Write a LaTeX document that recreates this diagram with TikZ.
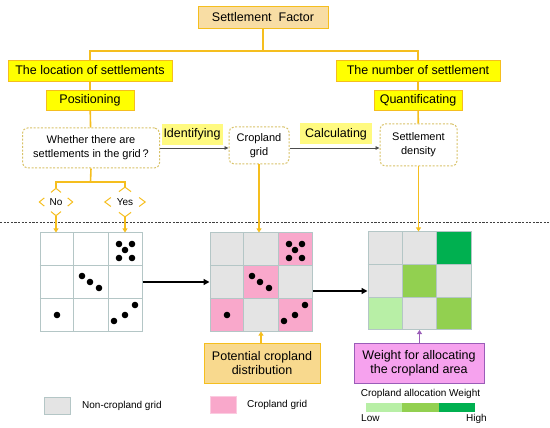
\documentclass[tikz,border=0pt]{standalone}
\usepackage{fontspec}
\setmainfont{Liberation Sans}
\usetikzlibrary{arrows.meta,shapes.geometric,calc}

\definecolor{goldline}{HTML}{F5BE1E}
\definecolor{tanfill}{HTML}{F8DDA4}
\definecolor{hlyellow}{HTML}{FFFF00}
\definecolor{softyellow}{HTML}{FFFA80}
\definecolor{dashgold}{HTML}{D8C268}
\definecolor{gridedge}{HTML}{B4C6C6}
\definecolor{nongrey}{HTML}{E4E4E4}
\definecolor{croppink}{HTML}{F9A8CB}
\definecolor{lowgreen}{HTML}{B8EFA6}
\definecolor{midgreen}{HTML}{92D050}
\definecolor{highgreen}{HTML}{00B050}
\definecolor{potfill}{HTML}{F8D98E}
\definecolor{wfill}{HTML}{F6A2EE}
\definecolor{wline}{HTML}{9A5DB8}

% dots of the settlements, measured from the top left corner of a grid
\newcommand\settledots{%
  \foreach \p in {(79,11),(92,11),(85,17),(79,25),(92,25),
                  (42,43),(50,49),(59,55),(17,82),
                  (74,88),(85,82),(95,72)}
    \fill \p circle (3.3pt);}

\begin{document}
\begin{tikzpicture}[x=1pt,y=-1pt,
  font=\fontsize{12.5}{14}\selectfont,
  tree/.style={draw=goldline, line width=1.6pt},
  ylarrow/.style={tree, -{Triangle[length=4pt,width=5pt]}},
  hbox/.style={draw=goldline, fill=hlyellow, line width=0.8pt, inner sep=0pt},
  tagbox/.style={fill=softyellow, inner sep=0pt, minimum height=21},
  qbox/.style={draw=dashgold, dash pattern=on 2pt off 1.6pt, line width=1pt,
    rounded corners=5pt, align=center, inner sep=0pt,
    font=\fontsize{11}{14}\selectfont},
  answer/.style={diamond, inner sep=1.5pt, font=\fontsize{10}{12}\selectfont},
  chev/.style={draw=goldline, line width=1pt},
  gridbox/.style={draw=gridedge, line width=1pt, minimum width=102,
    minimum height=98, inner sep=0pt},
  gridline/.style={draw=gridedge, line width=1pt},
  blkarrow/.style={draw=black, line width=1.5pt, -{Triangle[length=6pt,width=6pt]}},
  thinarrow/.style={draw=black!70, line width=0.8pt, -{Triangle[length=4pt,width=3.5pt]}},
  swatch/.style={draw=gridedge, line width=0.6pt, minimum width=26,
    minimum height=17, inner sep=0pt},
  legend/.style={font=\fontsize{10}{12}\selectfont, inner sep=0pt}]
\useasboundingbox (0,0) rectangle (550,428);

% --- upper part: the factor and its two branches
\node[draw=goldline, fill=tanfill, line width=0.8pt, minimum width=130,
  minimum height=22, inner sep=0pt] (factor) at (263,17) {Settlement\ \ Factor};
\node[hbox, minimum width=164, minimum height=21] (loc) at (90,70.5)
  {The location of settlements};
\node[hbox, minimum width=164, minimum height=21] (num) at (418,70.5)
  {The number of settlement};
\node[hbox, minimum width=88, minimum height=20] (pos) at (90,100) {Positioning};
\node[hbox, minimum width=88, minimum height=20] (quant) at (418,100) {Quantificating};

\coordinate (bar) at (263,51);
\draw[tree] (factor.south) -- (bar);
\draw[tree] (loc.north) |- (bar) -| (num.north);
\draw[tree] (loc) -- (pos);
\draw[tree] (num) -- (quant);

\node[qbox, minimum width=137, minimum height=40] (quest) at (91,148)
  {Whether there are\\settlements in the grid\,?};
\node[qbox, minimum width=60, minimum height=37] (crop) at (259,145.5)
  {Cropland\\grid};
\node[qbox, minimum width=77, minimum height=42] (dens) at (418.5,145)
  {Settlement\\density};
\draw[tree] (pos) -- (quest);
\draw[tree] (quant) -- (dens);

\draw[thinarrow] (quest.east |- 0,148) -- (crop.west |- 0,148);
\draw[thinarrow] (crop.east |- 0,148) -- (dens.west |- 0,148);
\node[tagbox, minimum width=61] (ident) at (192,134.5) {Identifying};
\node[tagbox, minimum width=72] (calc) at (336,134) {Calculating};

% --- the two answers, drawn with their corners only
\node[answer, minimum width=33, minimum height=27] (no) at (56,202) {No};
\node[answer, minimum width=40, minimum height=27] (yes) at (125,202) {Yes};
\foreach \a in {no,yes}
  \foreach \c/\l/\r in {north/west/east,south/west/east,
                        west/north/south,east/north/south}
    \draw[chev] ($(\a.\c)!0.3!(\a.\l)$) -- (\a.\c) -- ($(\a.\c)!0.3!(\a.\r)$);

\coordinate (split) at (90.5,182);
\draw[tree] (quest.south) -- (split);
\draw[tree] (no.north) |- (split) -| (yes.north);

% separator
\draw[black!75, dash pattern=on 2.2pt off 1.4pt, line width=0.8pt]
  (0,222) -- (550,222);

% --- the three grids
\begin{scope}[shift={(210,233)}]
  \foreach \c/\r/\col in {0/0/nongrey,1/0/nongrey,2/0/croppink,
                          0/1/nongrey,1/1/croppink,2/1/nongrey,
                          0/2/croppink,1/2/nongrey,2/2/croppink}
    \fill[\col] (\c*34,\r*32.67) rectangle ++(34,32.67);
\end{scope}
\begin{scope}[shift={(368,232)}]
  \foreach \c/\r/\col in {0/0/nongrey,1/0/nongrey,2/0/highgreen,
                          0/1/nongrey,1/1/midgreen,2/1/nongrey,
                          0/2/lowgreen,1/2/nongrey,2/2/midgreen}
    \fill[\col] (\c*34.3,\r*32.5) rectangle ++(34.3,32.5);
\end{scope}

\node[gridbox] (grid1) at (91,282) {};
\node[gridbox] (grid2) at (261,282) {};
\node[gridbox, minimum width=103, minimum height=97.5] (grid3) at (419.5,280.75) {};
\foreach \g in {grid1,grid2,grid3}
  \foreach \t in {0.3333,0.6667} {
    \draw[gridline] ($(\g.north west)!\t!(\g.north east)$)
      -- ($(\g.south west)!\t!(\g.south east)$);
    \draw[gridline] ($(\g.north west)!\t!(\g.south west)$)
      -- ($(\g.north east)!\t!(\g.south east)$);
  }
\begin{scope}[shift={(40,233)}] \settledots \end{scope}
\begin{scope}[shift={(210,233)}] \settledots \end{scope}

\draw[ylarrow] (no.south) -- (no.south |- grid1.north);
\draw[ylarrow] (yes.south) -- (yes.south |- grid1.north);
\draw[ylarrow] (crop.south) -- (crop.south |- grid2.north);
\draw[ylarrow] (dens.south) -- (dens.south |- grid3.north);

\draw[blkarrow] (grid1.east) -- (grid2.west);
\draw[blkarrow] ($(grid2.east)+(0,9)$) -- (grid3.west |- 0,291);

% --- results below the grids
\node[draw=goldline, fill=potfill, line width=0.8pt, minimum width=116,
  minimum height=40, inner sep=0pt, align=center] (pot) at (262,363)
  {Potential cropland\\distribution};
\node[draw=wline, fill=wfill, line width=0.8pt, minimum width=130,
  minimum height=40, inner sep=0pt, align=center] (weight) at (419,363)
  {Weight for allocating\\the cropland area};
\draw[ylarrow] (pot.north -| grid2) -- (grid2.south);
\draw[wline, line width=1.6pt, -{Triangle[length=4pt,width=5pt]}]
  (weight.north -| grid3) -- (grid3.south);

% --- legend
\node[swatch, fill=nongrey] (legnon) at (57,405.5) {};
\node[legend, anchor=west] (legnontxt) at (82,406) {Non-cropland grid};
\node[swatch, fill=croppink, draw=croppink!60] (legcrop) at (223,405) {};
\node[legend, anchor=west] (legcroptxt) at (247,404.5) {Cropland grid};

\node[legend] (scale) at (420.5,394) {Cropland allocation Weight};
\foreach \i/\col in {0/lowgreen,1/midgreen,2/highgreen}
  \node[fill=\col, minimum width=36.4, minimum height=9, inner sep=0pt]
    (seg\i) at (384.2+\i*36.4,407.5) {};
\node[legend, anchor=north west] (low) at (361,414) {Low};
\node[legend, anchor=north east] (high) at (487,414) {High};
\end{tikzpicture}
\end{document}
